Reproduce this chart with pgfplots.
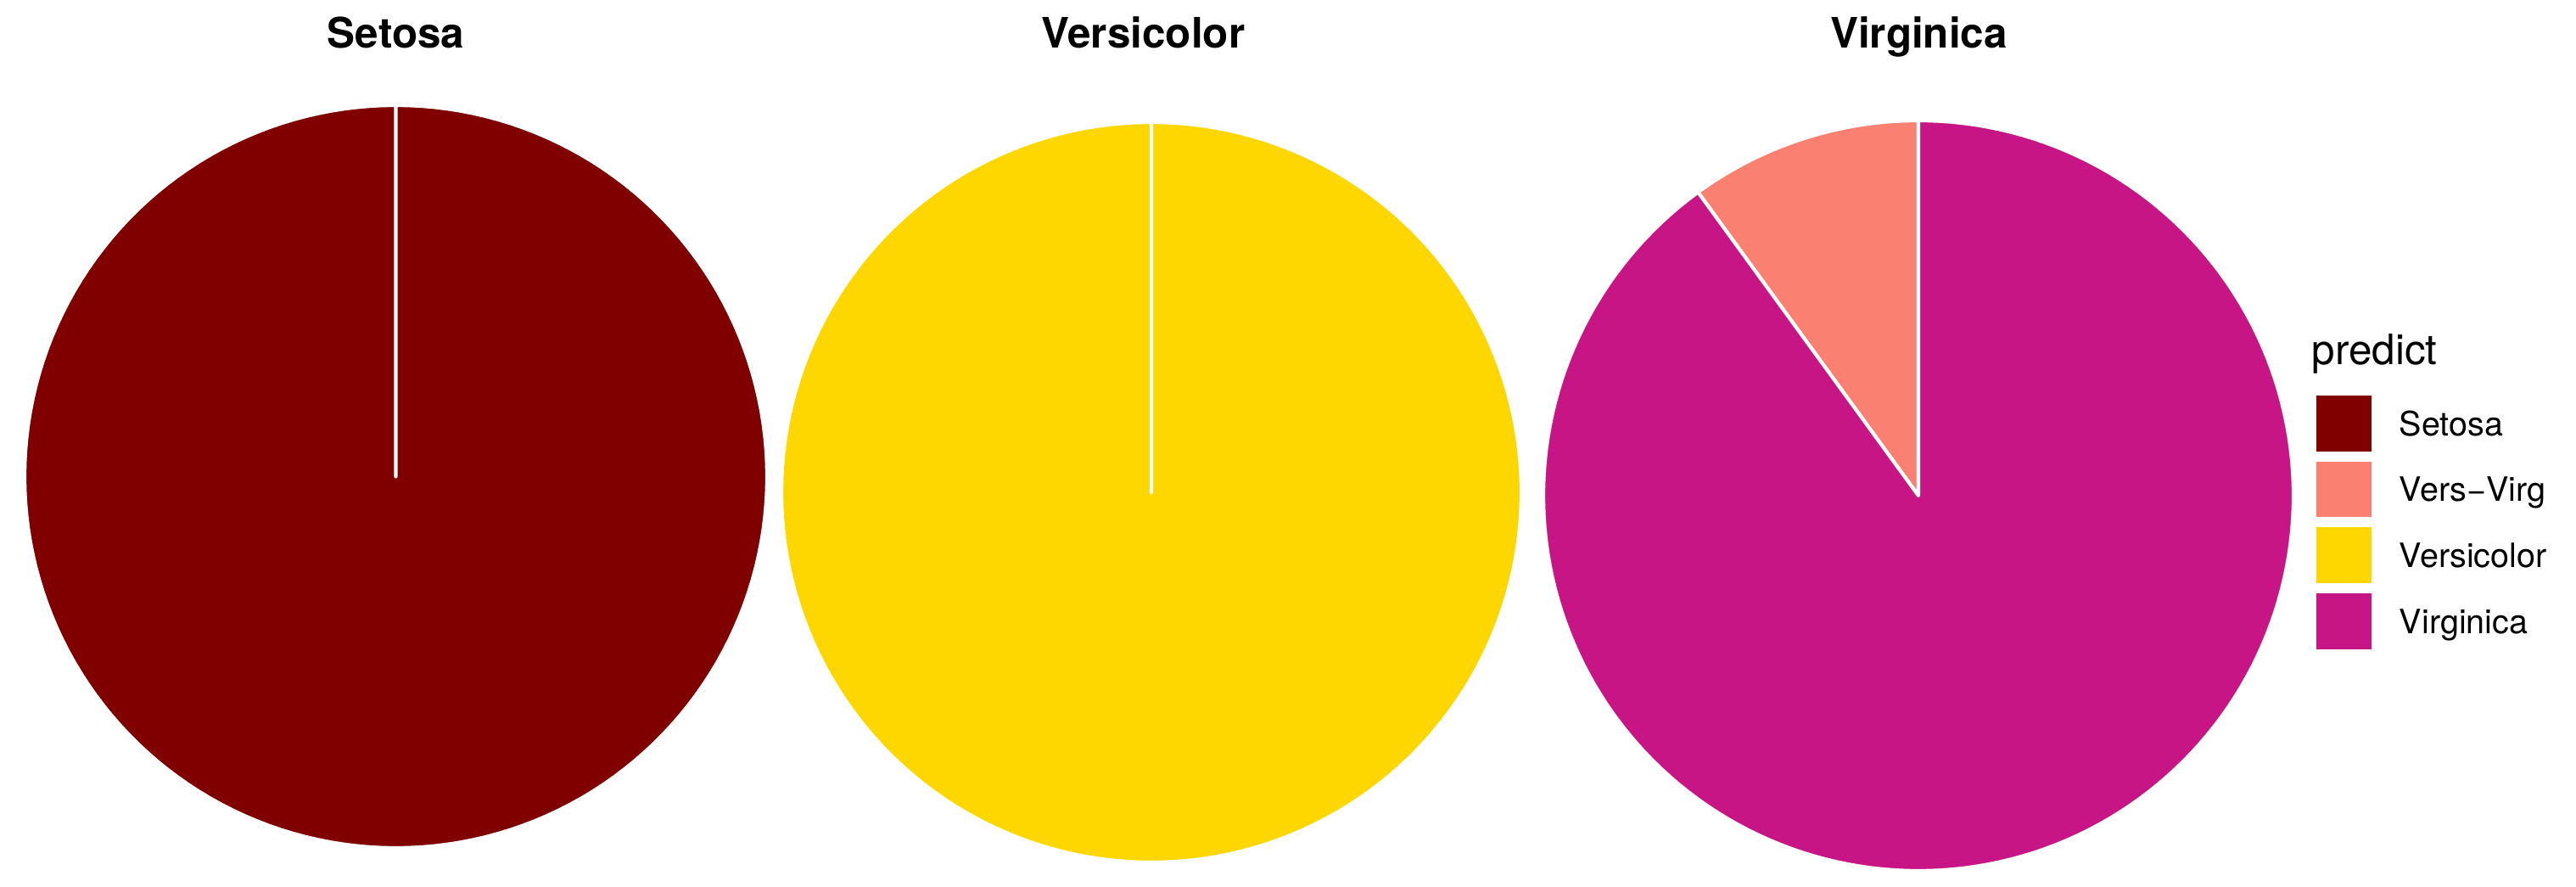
\documentclass[border=0pt]{standalone}
\usepackage{pgfplots}
\pgfplotsset{compat=1.18}
\usepackage{fontspec}
\setmainfont{TeX Gyre Heros}

\definecolor{setosa}{HTML}{800000}
\definecolor{versvirg}{HTML}{FA8072}
\definecolor{versicolor}{HTML}{FFD700}
\definecolor{virginica}{HTML}{C71585}

% shares of the predicted class within each facet
\def\shareVV{0.1}   % Virginica facet: Vers-Virg
\def\shareVi{0.9}   % Virginica facet: Virginica

% one pie slice: centre x, centre y, radius, start share, end share, colour
\newcommand{\slice}[6]{%
  \addplot[fill=#6, draw=white, line width=1pt, line join=round,
    domain={360*(#4)}:{360*(#5)}, samples=181, variable=\t]
    ({#1+#3*sin(\t)}, {#2-#3*cos(\t)}) -- (axis cs:#1,#2) -- cycle;
}

\begin{document}
\begin{tikzpicture}
\begin{axis}[
  scale only axis, width=728.64pt, height=250.8pt,
  xmin=0, xmax=3036, ymin=0, ymax=1045, y dir=reverse,
  axis lines=none, ticks=none, clip=false,
  legend image code/.code={\path[#1,draw=none] (0pt,-7.9pt) rectangle (15.6pt,7.9pt);},
  legend cell align=left,
  legend style={draw=none, fill=none, inner sep=0pt, outer sep=0pt,
    at={(axis cs:2730,460)}, anchor=north west,
    nodes={inner sep=0pt, text height=12.725pt, text depth=5.925pt,
      font=\fontsize{9.48}{11}\selectfont},
    /tikz/every odd column/.append style={column sep=7.9pt}},
]
% Setosa facet
\slice{466.5}{561.5}{437.5}{0}{1}{setosa}
\addlegendentry{Setosa}
% Virginica facet, Vers-Virg part
\slice{2261}{584}{442}{\shareVi}{\shareVi+\shareVV}{versvirg}
\addlegendentry{Vers−Virg}
% Versicolor facet
\slice{1357}{580}{436}{0}{1}{versicolor}
\addlegendentry{Versicolor}
% Virginica facet, Virginica part
\slice{2261}{584}{442}{0}{\shareVi}{virginica}
\addlegendentry{Virginica}

\node[anchor=base, font=\fontsize{11.85}{14}\selectfont\bfseries] at (axis cs:466.5,57) {Setosa};
\node[anchor=base, font=\fontsize{11.85}{14}\selectfont\bfseries] at (axis cs:1347.5,57) {Versicolor};
\node[anchor=base, font=\fontsize{11.85}{14}\selectfont\bfseries] at (axis cs:2261.5,57) {Virginica};
\node[anchor=base west, inner sep=0pt, font=\fontsize{11.85}{14}\selectfont] at (axis cs:2724,430) {predict};
\end{axis}
\pgfresetboundingbox
\useasboundingbox (0,0) rectangle (728.64pt,250.8pt);
\end{tikzpicture}
\end{document}
